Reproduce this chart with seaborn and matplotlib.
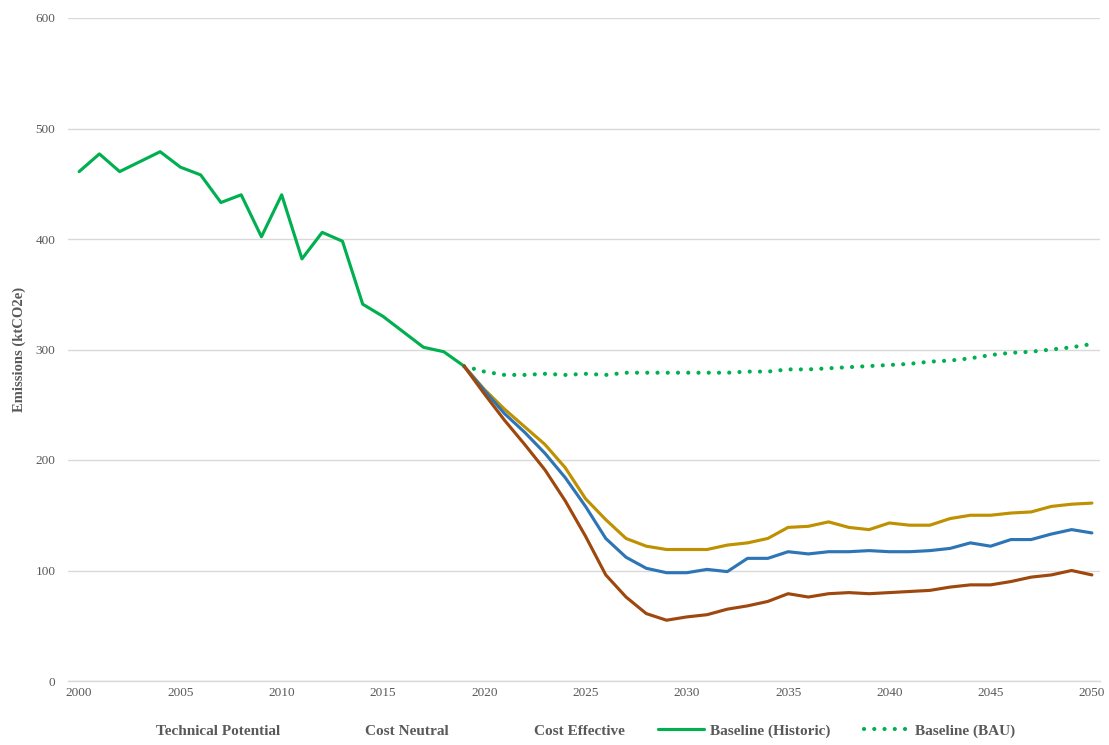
import matplotlib
matplotlib.use("Agg")
import matplotlib.pyplot as plt
import seaborn as sns
import pandas as pd
from matplotlib.lines import Line2D

# ---- data ----
hist_years = list(range(2000, 2020))
hist_vals = [461, 477, 461, 470, 479, 465, 458, 433, 440, 402,
             440, 382, 406, 398, 341, 330, 316, 302, 298, 285]

proj_years = list(range(2019, 2051))
bau_vals = [285, 280, 277, 277, 278, 277, 278, 277, 279, 279,
            279, 279, 279, 279, 280, 280, 282, 282, 283, 284,
            285, 286, 287, 289, 290, 292, 295, 297, 298, 300,
            302, 305]
cost_effective = [285, 264, 246, 230, 214, 193, 165, 146, 129, 122,
                  119, 119, 119, 123, 125, 129, 139, 140, 144, 139,
                  137, 143, 141, 141, 147, 150, 150, 152, 153, 158,
                  160, 161]
cost_neutral = [285, 263, 242, 225, 206, 184, 158, 129, 112, 102,
                98, 98, 101, 99, 111, 111, 117, 115, 117, 117,
                118, 117, 117, 118, 120, 125, 122, 128, 128, 133,
                137, 134]
technical_potential = [285, 260, 236, 214, 191, 163, 131, 96, 76, 61,
                       55, 58, 60, 65, 68, 72, 79, 76, 79, 80,
                       79, 80, 81, 82, 85, 87, 87, 90, 94, 96,
                       100, 96]

labels = ["Technical Potential", "Cost Neutral", "Cost Effective",
          "Baseline (Historic)", "Baseline (BAU)"]
colors = {"Technical Potential": "#9E480E", "Cost Neutral": "#2E75B6",
          "Cost Effective": "#BF9000", "Baseline (Historic)": "#00B050",
          "Baseline (BAU)": "#00B050"}

x_ticks = list(range(2000, 2051, 5))
y_ticks = list(range(0, 601, 100))

# ---- build frames ----
df_hist = pd.DataFrame({"year": hist_years, "value": hist_vals})
df_bau = pd.DataFrame({"year": proj_years, "value": bau_vals})
df_ce = pd.DataFrame({"year": proj_years, "value": cost_effective})
df_cn = pd.DataFrame({"year": proj_years, "value": cost_neutral})
df_tp = pd.DataFrame({"year": proj_years, "value": technical_potential})

sns.set_style("white")
plt.rcParams["font.family"] = ["Liberation Serif", "DejaVu Serif"]

fig = plt.figure(figsize=(11.09, 7.45), dpi=100)
ax = fig.add_axes([68 / 1109, 1 - 681 / 745, (1100 - 68) / 1109, (681 - 18) / 745])

lw = 2.25
bau_lw = 3.0
bau_ls = (0, (0.01, 2.45))
sns.lineplot(data=df_hist, x="year", y="value", ax=ax, color=colors["Baseline (Historic)"],
             linewidth=lw, legend=False)
sns.lineplot(data=df_bau, x="year", y="value", ax=ax, color=colors["Baseline (BAU)"],
             linewidth=bau_lw, legend=False, linestyle=bau_ls,
             dash_capstyle="round")
sns.lineplot(data=df_ce, x="year", y="value", ax=ax, color=colors["Cost Effective"],
             linewidth=lw, legend=False)
sns.lineplot(data=df_cn, x="year", y="value", ax=ax, color=colors["Cost Neutral"],
             linewidth=lw, legend=False)
sns.lineplot(data=df_tp, x="year", y="value", ax=ax, color=colors["Technical Potential"],
             linewidth=lw, legend=False)

ax.set_xlim(1999.45, 2050.4)
ax.set_ylim(0, 600)
ax.set_xticks(x_ticks)
ax.set_yticks(y_ticks)
ax.yaxis.grid(True, color="#D9D9D9", linewidth=1)
ax.xaxis.grid(False)
for s in ["top", "right", "left"]:
    ax.spines[s].set_visible(False)
ax.spines["bottom"].set_color("#D9D9D9")
ax.spines["bottom"].set_linewidth(1)
ax.tick_params(axis="both", length=0, labelsize=9.5, labelcolor="#595959")
ax.tick_params(axis="y", pad=9)
ax.tick_params(axis="x", pad=4)
ax.set_xlabel("")
ax.set_ylabel("Emissions (ktCO2e)", fontsize=10.5, fontweight="bold", color="#595959", labelpad=7)

handles = [
    Line2D([], [], color="none", linewidth=lw),
    Line2D([], [], color="none", linewidth=lw),
    Line2D([], [], color="none", linewidth=lw),
    Line2D([], [], color=colors["Baseline (Historic)"], linewidth=lw),
    Line2D([], [], color=colors["Baseline (BAU)"], linewidth=bau_lw,
           linestyle=bau_ls, dash_capstyle="round"),
]
leg = fig.legend(handles, labels, loc="center", bbox_to_anchor=(0.505, 1 - 731 / 745),
                 ncol=5, frameon=False, handlelength=3.0, columnspacing=2.2,
                 handletextpad=0.35,
                 prop={"size": 11, "weight": "bold"})
for t in leg.get_texts():
    t.set_color("#595959")

fig.savefig("out.png", dpi=100)
